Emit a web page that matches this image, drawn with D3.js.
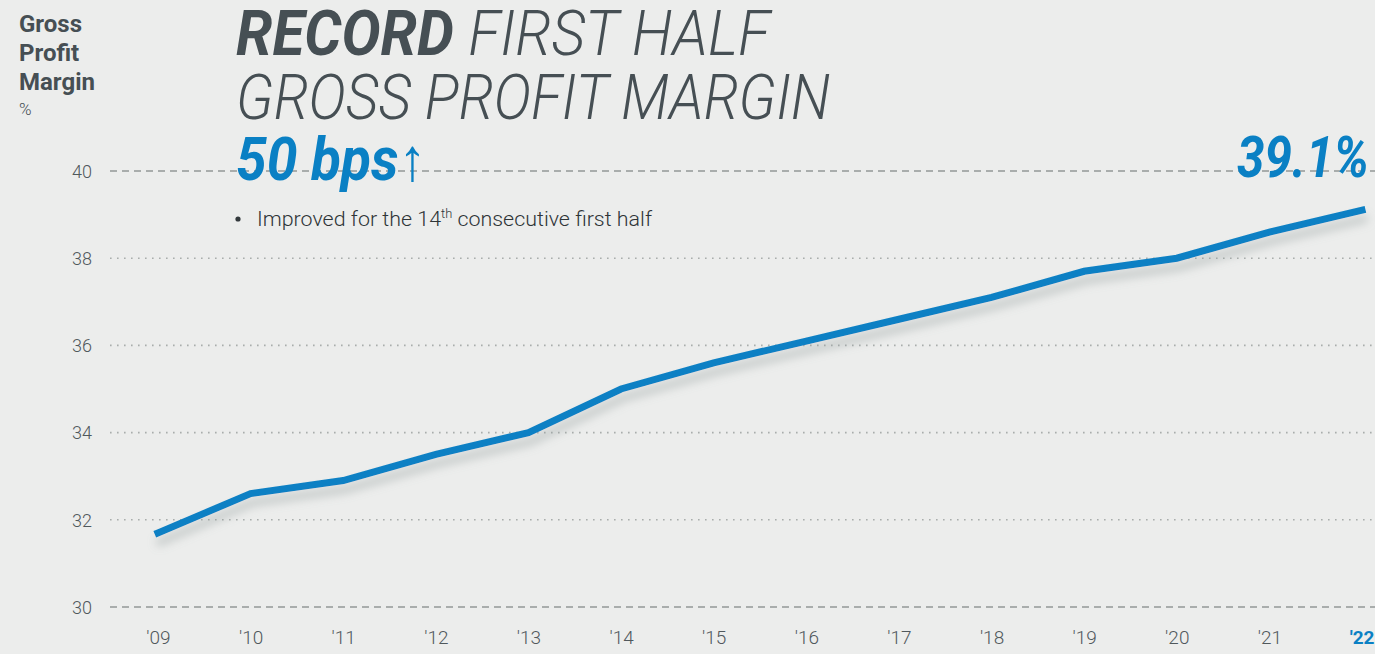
<!DOCTYPE html>
<html>
<head>
<meta charset="utf-8">
<script src="https://cdn.jsdelivr.net/npm/d3@7"></script>
<style>
  html, body { margin: 0; padding: 0; background: #ecedec; }
  svg { display: block; font-family: Roboto, "Noto Sans", sans-serif; }
</style>
</head>
<body>
<div id="chart"></div>
<script>
// data
const years = [2009, 2010, 2011, 2012, 2013, 2014, 2015, 2016, 2017, 2018, 2019, 2020, 2021, 2022];
const margins = [31.7, 32.6, 32.9, 33.5, 34.0, 35.0, 35.6, 36.1, 36.6, 37.1, 37.7, 38.0, 38.6, 39.1];
const yTicks = [30, 32, 34, 36, 38, 40];
const xLabels = ["'09", "'10", "'11", "'12", "'13", "'14", "'15", "'16", "'17", "'18", "'19", "'20", "'21", "'22"];

const width = 1375,
      height = 654;
const blue = "#0a80c4",
      dark = "#464f54";

const svg = d3.select("#chart")
  .append("svg")
    .attr("width", width)
    .attr("height", height)
    .attr("viewBox", `0 0 ${width} ${height}`);

// scales
const x = d3.scaleLinear()
    .domain([2009, 2022])
    .range([158, 1362]);
const y = d3.scaleLinear()
    .domain([30, 40])
    .range([607, 171]);

// shadow under the line
const defs = svg.append("defs");
const filter = defs.append("filter")
    .attr("id", "shadow")
    .attr("x", "-5%").attr("y", "-20%")
    .attr("width", "110%").attr("height", "150%");
filter.append("feGaussianBlur").attr("in", "SourceAlpha").attr("stdDeviation", 5).attr("result", "blur");
filter.append("feOffset").attr("in", "blur").attr("dx", 2).attr("dy", 9).attr("result", "off");
filter.append("feFlood").attr("flood-color", "#8e9999").attr("flood-opacity", 0.45);
filter.append("feComposite").attr("in2", "off").attr("operator", "in");
const merge = filter.append("feMerge");
merge.append("feMergeNode");
merge.append("feMergeNode").attr("in", "SourceGraphic");

// gridlines
svg.append("g")
  .selectAll("line")
  .data(yTicks)
  .join("line")
    .attr("x1", 110)
    .attr("x2", width)
    .attr("y1", d => y(d))
    .attr("y2", d => y(d))
    .attr("stroke", "#a9adac")
    .attr("stroke-width", d => (d === 30 || d === 40) ? 2 : 1.6)
    .attr("stroke-dasharray", d => (d === 30 || d === 40) ? "7,5" : "1.6,5.4");

// y axis labels
const yAxis = svg.append("g")
    .attr("transform", "translate(92,0)")
    .call(d3.axisLeft(y).tickValues(yTicks).tickSize(0).tickPadding(0));
yAxis.select(".domain").remove();
yAxis.selectAll("text")
    .attr("font-family", "Roboto, sans-serif")
    .attr("font-size", 18)
    .attr("font-weight", 300)
    .attr("fill", "#50585c")
    .attr("dy", "0.35em");

// x axis labels
const last = years.length - 1;
const xAxis = svg.append("g")
    .attr("transform", "translate(0,631)")
    .call(d3.axisBottom(x).tickValues(years).tickSize(0).tickPadding(0)
      .tickFormat((d, i) => xLabels[i]));
xAxis.select(".domain").remove();
xAxis.selectAll("text")
    .attr("font-family", "Roboto, sans-serif")
    .attr("font-size", 19)
    .attr("font-weight", (d, i) => i === last ? 700 : 300)
    .attr("fill", (d, i) => i === last ? blue : "#50585c")
    .attr("text-anchor", (d, i) => i === last ? "end" : "middle")
    .attr("x", (d, i) => i === last ? 12 : 0)
    .attr("dy", "0.7em");

// line
const line = d3.line()
    .x((d, i) => x(years[i]))
    .y(d => y(d));

svg.append("path")
    .datum(margins)
    .attr("d", line)
    .attr("fill", "none")
    .attr("stroke", blue)
    .attr("stroke-width", 7)
    .attr("stroke-linecap", "square")
    .attr("filter", "url(#shadow)");

// axis title
const axisTitle = svg.append("text")
    .attr("x", 19)
    .attr("font-family", "Roboto, sans-serif")
    .attr("font-weight", 700)
    .attr("font-size", 24)
    .attr("fill", dark);
["Gross", "Profit", "Margin"].forEach((t, i) => {
  axisTitle.append("tspan").attr("x", 19).attr("y", 32 + i * 29).text(t);
});
svg.append("text")
    .attr("x", 19).attr("y", 115)
    .attr("font-size", 17)
    .attr("font-weight", 300)
    .attr("fill", dark)
    .text("%");

// headline
const t1 = svg.append("text")
    .attr("x", 236).attr("y", 55)
    .attr("font-size", 62)
    .attr("font-style", "italic")
    .attr("fill", dark)
    .attr("textLength", 534)
    .attr("lengthAdjust", "spacingAndGlyphs");
t1.append("tspan").attr("font-weight", 700).text("RECORD ");
t1.append("tspan").attr("font-weight", 300).text("FIRST HALF");

svg.append("text")
    .attr("x", 236).attr("y", 119)
    .attr("font-size", 62)
    .attr("font-style", "italic")
    .attr("font-weight", 300)
    .attr("fill", dark)
    .attr("textLength", 594)
    .attr("lengthAdjust", "spacingAndGlyphs")
    .text("GROSS PROFIT MARGIN");

const t3 = svg.append("text")
    .attr("x", 236).attr("y", 180)
    .attr("font-size", 60)
    .attr("font-style", "italic")
    .attr("fill", blue)
    .attr("textLength", 190)
    .attr("lengthAdjust", "spacingAndGlyphs");
t3.append("tspan").attr("font-weight", 700).text("50 bps");
t3.append("tspan").attr("font-weight", 300).text("↑");

// bullet
svg.append("circle")
    .attr("cx", 238).attr("cy", 219).attr("r", 2.6)
    .attr("fill", "#33393c");
const bullet = svg.append("text")
    .attr("x", 257).attr("y", 226)
    .attr("font-size", 20)
    .attr("font-weight", 300)
    .attr("fill", "#2e3437")
    .attr("textLength", 395)
    .attr("lengthAdjust", "spacingAndGlyphs");
bullet.append("tspan").text("Improved for the 14");
bullet.append("tspan").attr("font-size", 12).attr("dy", -8).text("th");
bullet.append("tspan").attr("dy", 8).text(" consecutive first half");

// end value
svg.append("text")
    .attr("x", 1369).attr("y", 177)
    .attr("text-anchor", "end")
    .attr("font-size", 58)
    .attr("font-style", "italic")
    .attr("font-weight", 700)
    .attr("fill", blue)
    .attr("textLength", 132)
    .attr("lengthAdjust", "spacingAndGlyphs")
    .text(margins[margins.length - 1] + "%");
</script>
</body>
</html>
